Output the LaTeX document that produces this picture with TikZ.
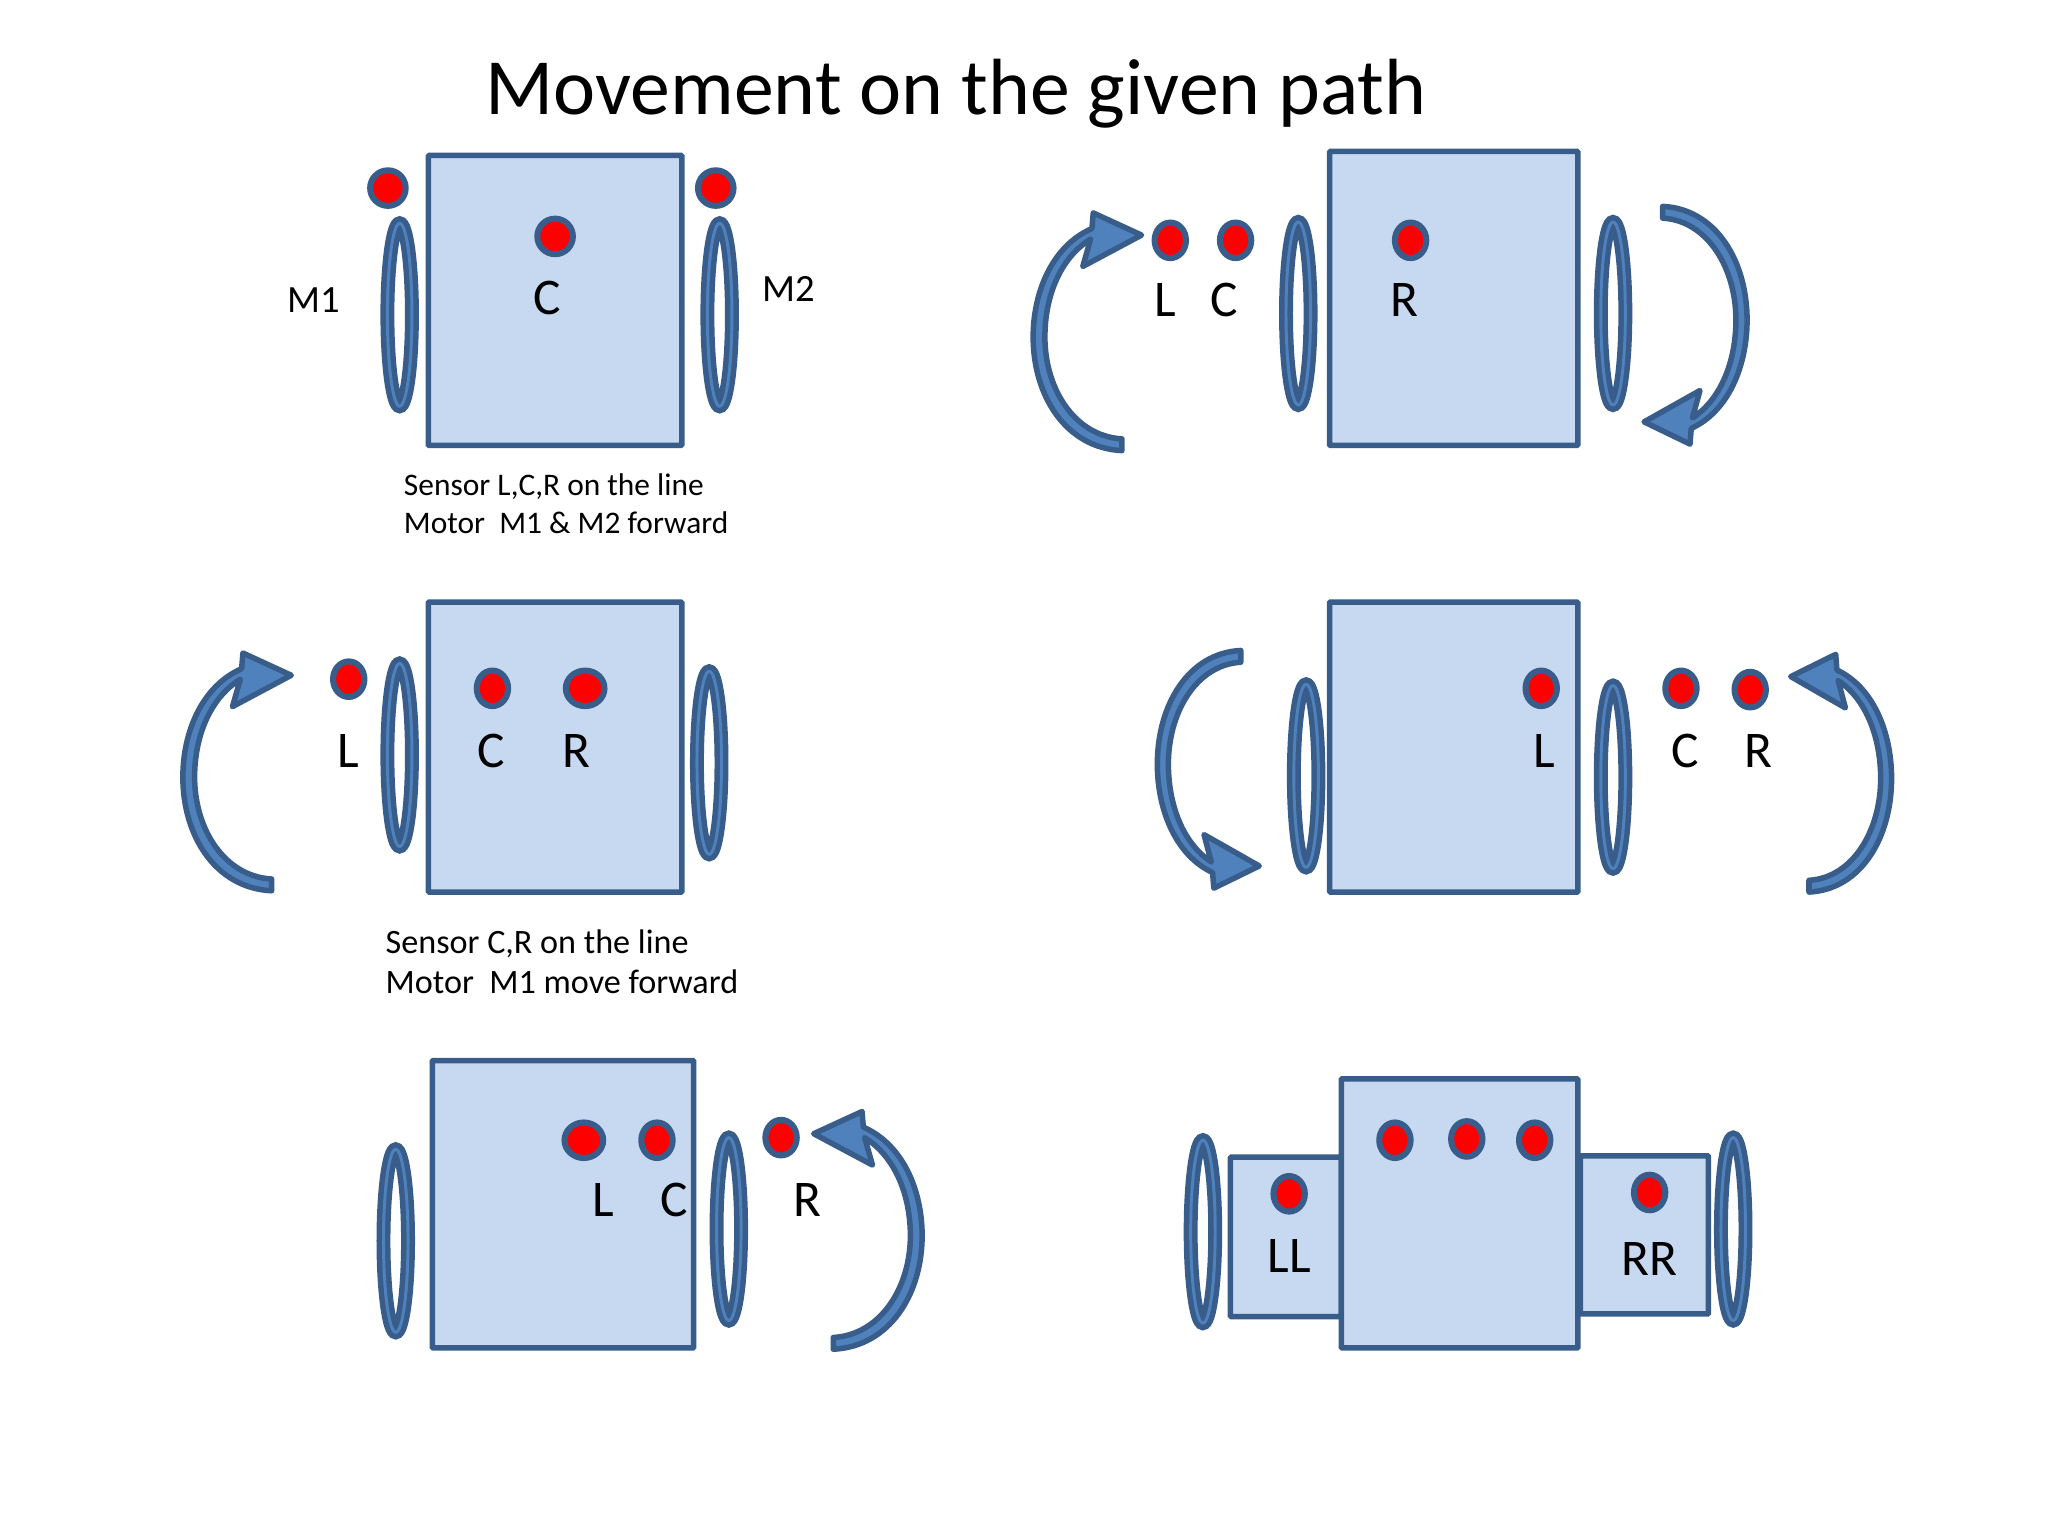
\documentclass[tikz,border=0pt]{standalone}
\usepackage{fontspec}
\setmainfont{Carlito}
\usetikzlibrary{shapes.geometric}
\definecolor{edgeblue}{HTML}{385D8A}
\definecolor{midblue}{HTML}{4F81BD}
\definecolor{bodyblue}{HTML}{C6D9F1}
\tikzset{
	body/.style 2 args={draw=edgeblue,fill=bodyblue,line width=3pt,rounded corners=.5pt,minimum width=#1,minimum height=#2,inner sep=0pt},
	wheel/.style={ellipse,draw=edgeblue,double=midblue,line width=3pt,double distance=1.6pt,minimum width=.47cm,minimum height=3.5cm,inner sep=0pt},
	sensor/.style={ellipse,draw=edgeblue,fill=red,line width=3.3pt,minimum width=.6cm,minimum height=.68cm,inner sep=0pt},
	wide/.style={minimum width=.74cm},
	big/.style={minimum width=.68cm},
	lab/.style={font=\fontsize{28}{30}\selectfont,inner sep=0pt},
	small/.style={font=\fontsize{21}{24}\selectfont,inner sep=0pt},
	note/.style 2 args={font=\fontsize{#1}{#2}\selectfont,anchor=west,align=left,inner sep=0pt},
	turnarrow/.pic={
		\draw[draw=edgeblue,fill=midblue,line width=3pt,line join=round]
		(0,5) .. controls (-43,3) and (-68,-37) .. (-68,-82)
		.. controls (-68,-117) and (-53,-152) .. (-23,-165)
		-- (-22,-177) -- (15,-160) -- (-30,-136) -- (-24,-157)
		.. controls (-48,-142) and (-59,-112) .. (-59,-82)
		.. controls (-59,-42) and (-36,-6) .. (0,-4) -- cycle;
	}
}
\begin{document}
\begin{tikzpicture}[x=.025cm,y=-.025cm]
\useasboundingbox (0,0) rectangle (1568,1176);
\node (title) [font=\fontsize{43.4}{50}\selectfont,inner sep=0pt] at (732,72) {Movement on the given path};

% row 1, left
\node (bodyA) [body={4.85cm}{5.55cm}] at (425,230) {};
\node (wheelAl) [wheel] at (306,241) {};
\node (wheelAr) [wheel] at (551,241) {};
\node (dotAl) [sensor,big] at (297,144) {};
\node (dotAr) [sensor,big] at (548,144) {};
\node (dotAc) [sensor,big] at (425,181) {};
\node (labM1) [small] at (240,230) {M1};
\node (labM2) [small] at (604,221) {M2};
\node (labAc) [lab] at (419,228) {C};
\node (noteA) [note={17.1}{20.6}] at (309,385.5) {Sensor L,C,R on the line\\Motor\ \ M1 \& M2 forward};

% row 1, right
\node (bodyB) [body={4.75cm}{5.625cm}] at (1113,228.5) {};
\node (wheelBl) [wheel] at (994,240) {};
\node (wheelBr) [wheel] at (1235,240) {};
\node (dotBl) [sensor] at (896,184) {};
\node (dotBc) [sensor] at (946,184) {};
\node (dotBr) [sensor] at (1080,184) {};
\node (labBl) [lab] at (892,230) {L};
\node (labBc) [lab] at (937,230) {C};
\node (labBr) [lab] at (1075,230) {R};
\pic (turnBl) at (859,340) {turnarrow};
\pic (turnBr) [rotate=180,xscale=.95] at (1273,163) {turnarrow};

% row 2, left
\node (bodyC) [body={4.85cm}{5.55cm}] at (425,572) {};
\node (wheelCl) [wheel] at (306,578) {};
\node (wheelCr) [wheel] at (543,584) {};
\node (dotCl) [sensor] at (267,520) {};
\node (dotCc) [sensor] at (377,527) {};
\node (dotCr) [sensor,wide] at (448,527) {};
\node (labCl) [lab] at (267,575) {L};
\node (labCc) [lab] at (376,575) {C};
\node (labCr) [lab] at (441,575) {R};
\node (noteC) [note={18.6}{22}] at (295,736.5) {Sensor C,R on the line\\Motor\ \ M1 move forward};
\pic (turnC) at (208,677) {turnarrow};

% row 2, right
\node (bodyD) [body={4.75cm}{5.55cm}] at (1113,572) {};
\node (wheelDl) [wheel] at (1000,594) {};
\node (wheelDr) [wheel] at (1235,595) {};
\node (dotDl) [sensor] at (1180,527) {};
\node (dotDc) [sensor] at (1287,527) {};
\node (dotDr) [sensor] at (1340,528) {};
\node (labDl) [lab] at (1182,575) {L};
\node (labDc) [lab] at (1290,575) {C};
\node (labDr) [lab] at (1346,575) {R};
\pic (turnDl) [yscale=-1,xscale=.94] at (950,503) {turnarrow};
\pic (turnDr) [xscale=-.93] at (1385,678) {turnarrow};

% row 3, left
\node (bodyE) [body={5cm}{5.5cm}] at (431,922) {};
\node (wheelEl) [wheel] at (303,950) {};
\node (wheelEr) [wheel] at (558,941) {};
\node (dotEl) [sensor,wide] at (447,873) {};
\node (dotEc) [sensor] at (503,873) {};
\node (dotEr) [sensor] at (598,871) {};
\node (labEl) [lab] at (462,919) {L};
\node (labEc) [lab] at (516,919) {C};
\node (labEr) [lab] at (618,919) {R};
\pic (turnE) [xscale=-1] at (638,1028) {turnarrow};

% row 3, right
\node (sideFl) [body={2.125cm}{3.05cm}] at (984.5,947) {};
\node (sideFr) [body={2.45cm}{3.025cm}] at (1259,945.5) {};
\node (bodyF) [body={4.525cm}{5.15cm}] at (1117.5,929) {};
\node (wheelFl) [wheel] at (921,943) {};
\node (wheelFr) [wheel] at (1327,941) {};
\node (dotFa) [sensor] at (1068,873) {};
\node (dotFb) [sensor] at (1123,872) {};
\node (dotFc) [sensor] at (1175,873) {};
\node (dotFl) [sensor] at (987,914) {};
\node (dotFr) [sensor] at (1263,913) {};
\node (labFl) [lab] at (987,962) {LL};
\node (labFr) [lab] at (1263,964) {RR};
\end{tikzpicture}
\end{document}
